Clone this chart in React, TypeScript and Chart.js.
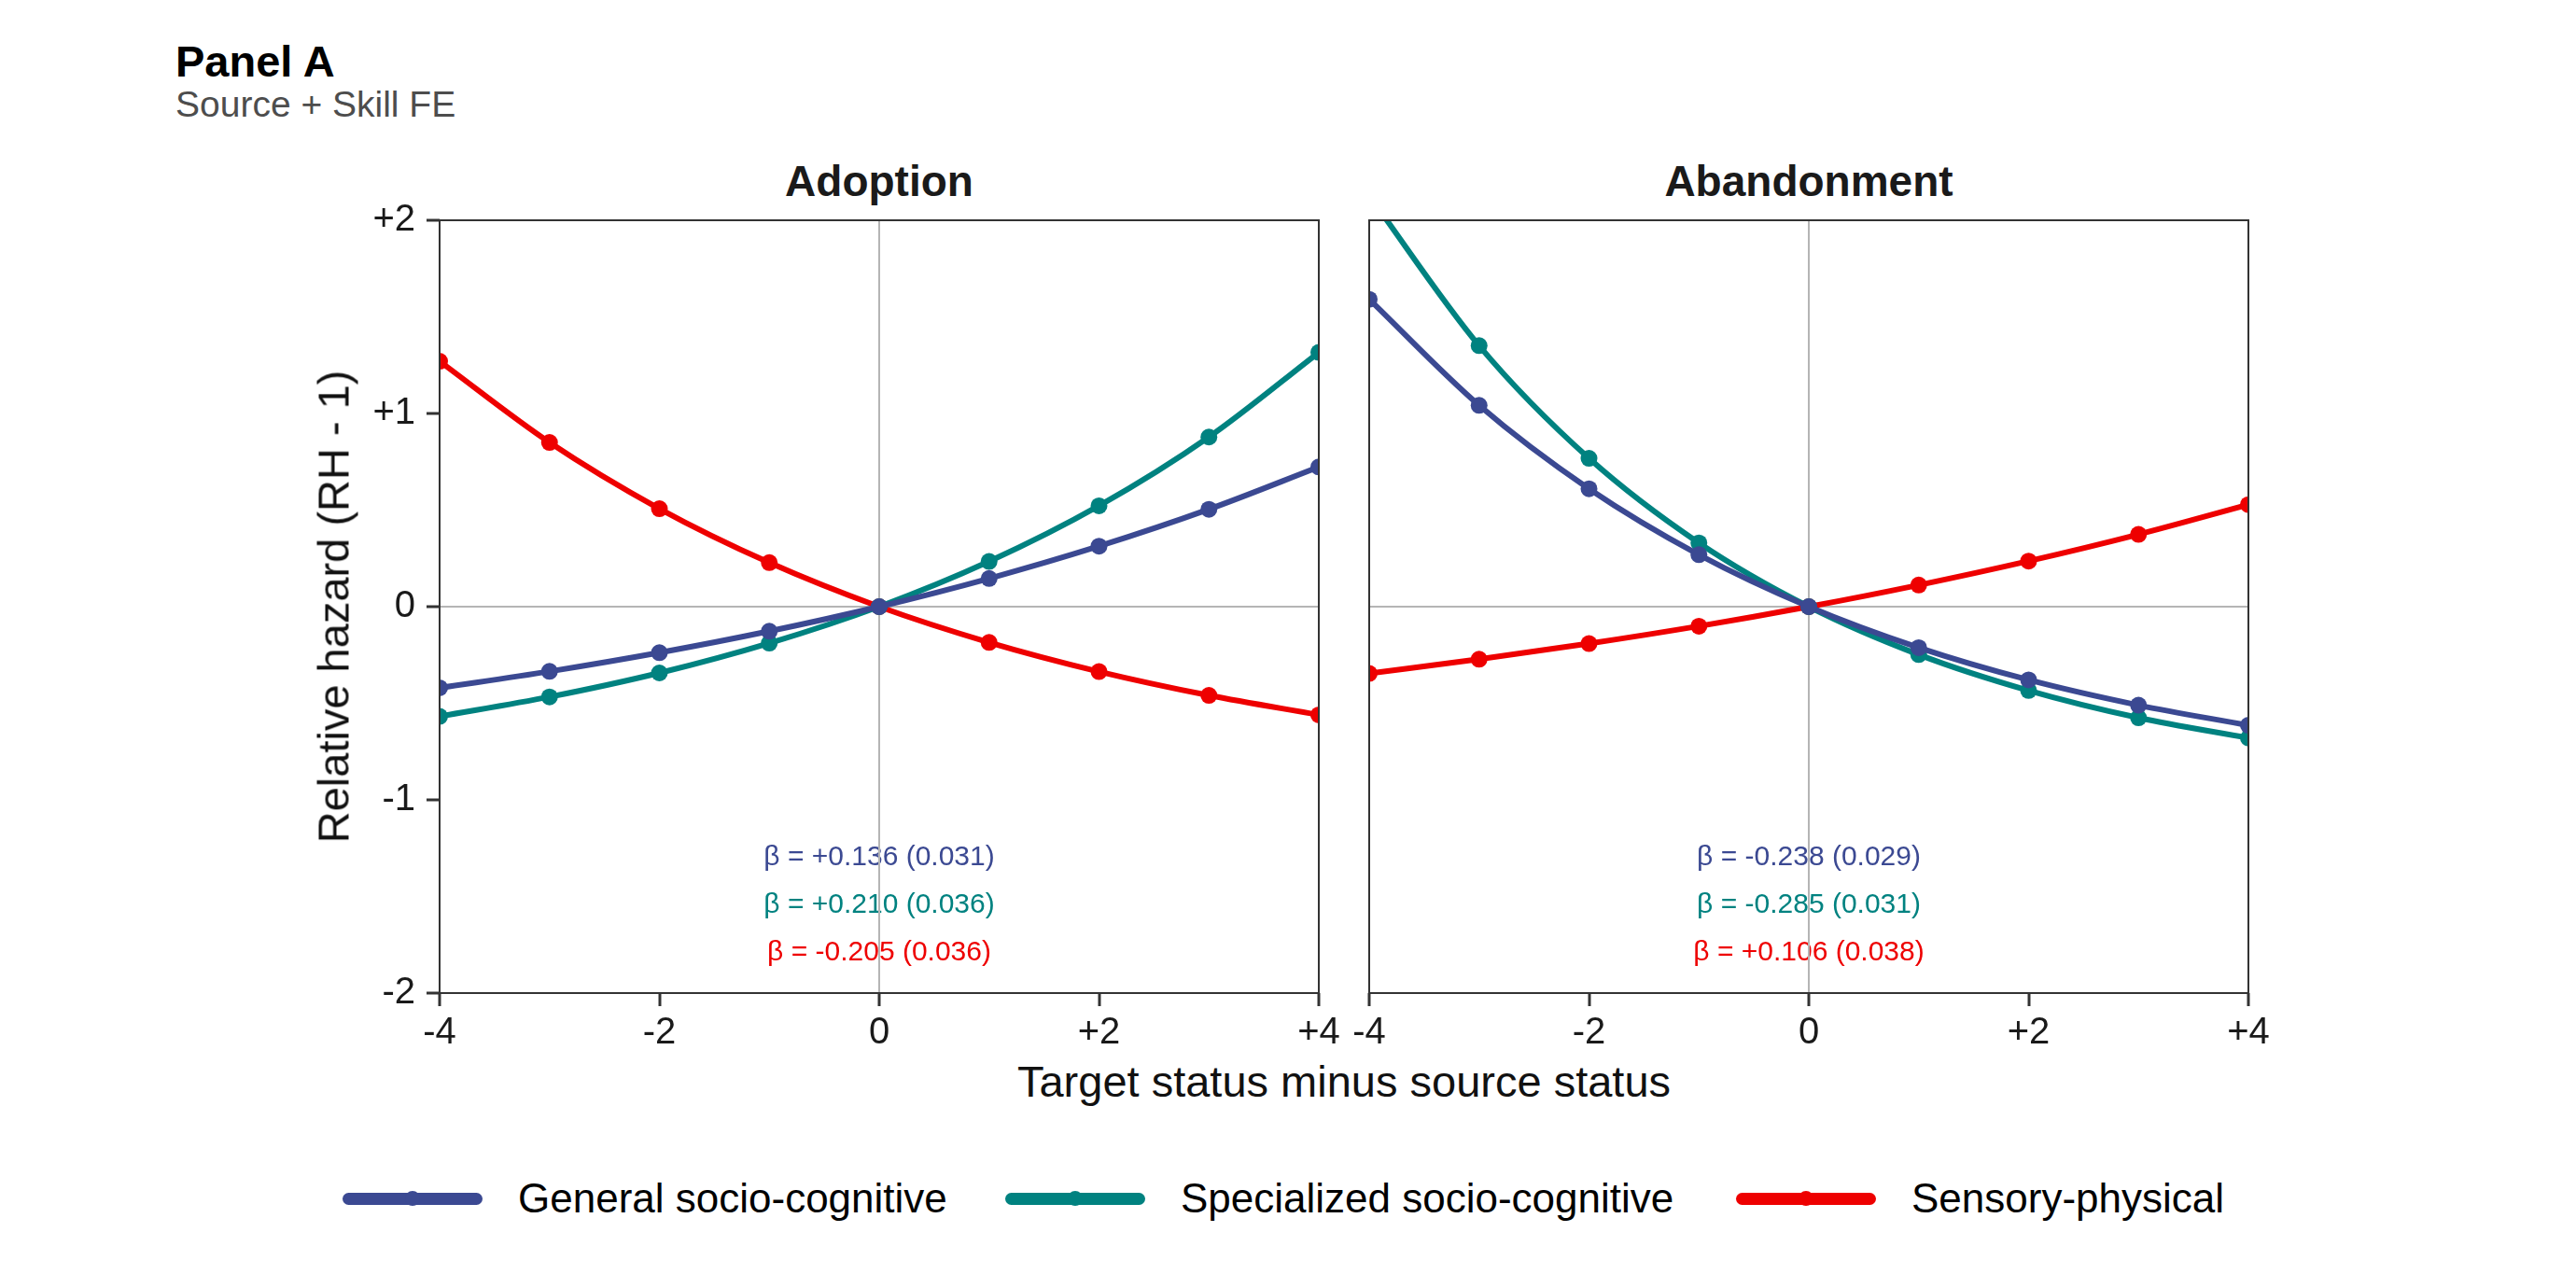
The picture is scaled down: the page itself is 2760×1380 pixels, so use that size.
import { useEffect, useRef } from "react";
import { Chart, registerables, ChartConfiguration, Plugin } from "chart.js";

Chart.register(...registerables);

const FONT = "'Liberation Sans', Arial, Helvetica, sans-serif";
Chart.defaults.font.family = FONT;

// status gap (target minus source) and axis ticks
const statusGap = [-4, -3, -2, -1, 0, 1, 2, 3, 4];
const xTicks = [-4, -2, 0, 2, 4];
const yTicks = [-2, -1, 0, 1, 2];

const skillNames = ["General socio-cognitive", "Specialized socio-cognitive", "Sensory-physical"];
const skillColors = ["#3B4992", "#008280", "#EE0000"];

// relative hazard (RH - 1)
const adoptionGeneral = [-0.42, -0.335, -0.238, -0.127, 0, 0.146, 0.313, 0.504, 0.723];
const adoptionSpecialized = [-0.568, -0.467, -0.343, -0.189, 0, 0.234, 0.522, 0.878, 1.316];
const adoptionSensory = [1.27, 0.85, 0.507, 0.228, 0, -0.185, -0.336, -0.459, -0.56];

// relative hazard (RH - 1)
const abandonGeneral = [1.591, 1.042, 0.61, 0.269, 0, -0.212, -0.379, -0.51, -0.614];
const abandonSpecialized = [2.127, 1.351, 0.768, 0.33, 0, -0.248, -0.434, -0.575, -0.68];
const abandonSensory = [-0.346, -0.272, -0.191, -0.101, 0, 0.112, 0.236, 0.374, 0.528];

// slope estimates and standard errors printed in each panel
const adoptionBeta = [0.136, 0.21, -0.205];
const adoptionSE = [0.031, 0.036, 0.036];
const abandonBeta = [-0.238, -0.285, 0.106];
const abandonSE = [0.029, 0.031, 0.038];
const noteRows = [-1.3, -1.545, -1.79];

const AREA_TOP = 236;
const AXIS_H = 66;
const CANVAS_H = 1130;
const ZERO_LINE = "#b5b5b5";
const FRAME = "#333333";

const signed = (v: number, digits = 0) =>
  v > 0 ? "+" + v.toFixed(digits) : v.toFixed(digits);

const panelFrame: Plugin = {
  id: "panelFrame",
  afterDraw(chart) {
    const { ctx, chartArea: a } = chart;
    ctx.save();
    ctx.strokeStyle = FRAME;
    ctx.lineWidth = 2;
    ctx.strokeRect(a.left, a.top, a.right - a.left, a.bottom - a.top);
    ctx.restore();
  },
};

type PanelProps = {
  series: number[][];
  betas: number[];
  ses: number[];
  showY: boolean;
  left: number;
  width: number;
  yWidth: number;
  padRight: number;
};

function Panel({ series, betas, ses, showY, left, width, yWidth, padRight }: PanelProps) {
  const ref = useRef<HTMLCanvasElement | null>(null);

  useEffect(() => {
    if (!ref.current) return;

    const notes: Plugin = {
      id: "betaNotes",
      beforeDraw(chart) {
        const { ctx, scales } = chart;
        const cx = scales.x.getPixelForValue(0);
        ctx.save();
        ctx.font = `30px ${FONT}`;
        ctx.textAlign = "center";
        ctx.textBaseline = "middle";
        betas.forEach((b, i) => {
          ctx.fillStyle = skillColors[i];
          ctx.fillText(
            `β = ${signed(b, 3)} (${ses[i].toFixed(3)})`,
            cx,
            scales.y.getPixelForValue(noteRows[i])
          );
        });
        ctx.restore();
      },
    };

    const gridColor = (c: any) =>
      c.tick && c.tick.value === 0 ? ZERO_LINE : "rgba(0,0,0,0)";

    const config: ChartConfiguration<"line"> = {
      type: "line",
      data: {
        datasets: series.map((vals, i) => ({
          label: skillNames[i],
          data: statusGap.map((x, j) => ({ x, y: vals[j] })),
          borderColor: skillColors[i],
          backgroundColor: skillColors[i],
          borderWidth: 6,
          pointRadius: 9,
          pointHoverRadius: 9,
          pointBorderWidth: 0,
          cubicInterpolationMode: "monotone",
          clip: 0,
        })),
      },
      options: {
        animation: false,
        responsive: false,
        events: [],
        layout: { padding: { left: 0, top: AREA_TOP, right: padRight, bottom: 0 } },
        plugins: { legend: { display: false }, tooltip: { enabled: false } },
        scales: {
          x: {
            type: "linear",
            min: -4,
            max: 4,
            afterBuildTicks: (s) => {
              s.ticks = xTicks.map((value) => ({ value }));
            },
            afterFit: (s) => {
              s.height = AXIS_H;
            },
            border: { display: false },
            grid: {
              color: gridColor,
              lineWidth: 2,
              drawTicks: true,
              tickLength: 14,
              tickWidth: 3,
              tickColor: FRAME,
            },
            ticks: {
              font: { size: 40 },
              color: "#1a1a1a",
              padding: 5,
              maxRotation: 0,
              autoSkip: false,
              callback: (v) => signed(Number(v)),
            },
          },
          y: {
            type: "linear",
            min: -2,
            max: 2,
            afterBuildTicks: (s) => {
              s.ticks = yTicks.map((value) => ({ value }));
            },
            afterFit: (s) => {
              s.width = yWidth;
            },
            border: { display: false },
            grid: {
              color: gridColor,
              lineWidth: 2,
              drawTicks: showY,
              tickLength: showY ? 14 : 0,
              tickWidth: 3,
              tickColor: FRAME,
            },
            ticks: {
              display: showY,
              font: { size: 40 },
              color: "#1a1a1a",
              padding: 12,
              callback: (v) => signed(Number(v)),
            },
          },
        },
      },
      plugins: [notes, panelFrame],
    };

    const chart = new Chart(ref.current, config);
    return () => chart.destroy();
  }, [series, betas, ses, showY, yWidth, padRight]);

  return (
    <canvas
      ref={ref}
      width={width}
      height={CANVAS_H}
      style={{ position: "absolute", left, top: 0, width, height: CANVAS_H }}
    />
  );
}

const adoptionSeries = [adoptionGeneral, adoptionSpecialized, adoptionSensory];
const abandonSeries = [abandonGeneral, abandonSpecialized, abandonSensory];
const legendLeft = [367, 1077, 1860];

const text = (size: number, extra: React.CSSProperties = {}): React.CSSProperties => ({
  position: "absolute",
  fontSize: size,
  lineHeight: 1,
  whiteSpace: "nowrap",
  fontFamily: FONT,
  ...extra,
});

export default function App() {
  return (
    <div
      style={{
        position: "absolute",
        left: 0,
        top: 0,
        width: 2760,
        height: 1380,
        background: "#ffffff",
        overflow: "hidden",
        fontFamily: FONT,
      }}
    >
      <div style={text(47, { left: 188, top: 42, fontWeight: 700, color: "#000" })}>Panel A</div>
      <div style={text(39, { left: 188, top: 92, color: "#4d4d4d" })}>Source + Skill FE</div>

      <div style={text(46, { left: 942, top: 171, fontWeight: 700, color: "#1a1a1a", transform: "translateX(-50%)" })}>
        Adoption
      </div>
      <div style={text(46, { left: 1938, top: 171, fontWeight: 700, color: "#1a1a1a", transform: "translateX(-50%)" })}>
        Abandonment
      </div>

      <Panel
        series={adoptionSeries}
        betas={adoptionBeta}
        ses={adoptionSE}
        showY={true}
        left={0}
        width={1450}
        yWidth={471}
        padRight={37}
      />
      <Panel
        series={abandonSeries}
        betas={abandonBeta}
        ses={abandonSE}
        showY={false}
        left={1430}
        width={1020}
        yWidth={37}
        padRight={41}
      />

      <div
        style={text(47, {
          left: 357,
          top: 650,
          color: "#111",
          transform: "translate(-50%, -50%) rotate(-90deg)",
        })}
      >
        Relative hazard (RH - 1)
      </div>
      <div style={text(47, { left: 1440, top: 1135, color: "#111", transform: "translateX(-50%)" })}>
        Target status minus source status
      </div>

      {skillNames.map((name, i) => (
        <div
          key={name}
          style={{
            position: "absolute",
            left: legendLeft[i],
            top: 1284 - 30,
            height: 60,
            display: "flex",
            alignItems: "center",
          }}
        >
          <div
            style={{
              position: "relative",
              width: 150,
              height: 13,
              borderRadius: 7,
              background: skillColors[i],
            }}
          >
            <div
              style={{
                position: "absolute",
                left: 75 - 8,
                top: 6.5 - 8,
                width: 16,
                height: 16,
                borderRadius: 8,
                background: skillColors[i],
              }}
            />
          </div>
          <div style={{ marginLeft: 38, fontSize: 44, lineHeight: 1, color: "#000", whiteSpace: "nowrap" }}>
            {name}
          </div>
        </div>
      ))}
    </div>
  );
}
